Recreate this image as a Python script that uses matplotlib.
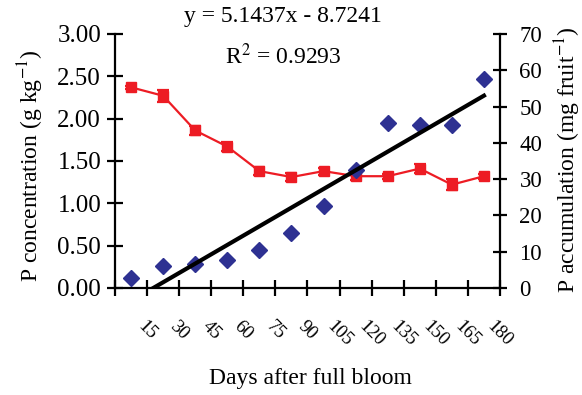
import matplotlib.pyplot as plt
import numpy as np

plt.rcParams['font.family'] = ['Liberation Serif', 'DejaVu Serif']
plt.rcParams['mathtext.fontset'] = 'stix'

# sampling dates (category positions 1..12), tick labels between them
days = [15, 30, 45, 60, 75, 90, 105, 120, 135, 150, 165, 180]
p_conc = [2.37, 2.27, 1.86, 1.67, 1.38, 1.31, 1.38, 1.32, 1.32, 1.41, 1.22, 1.32]
p_conc_err = [0.02, 0.07, 0.05, 0.05, 0.05, 0.05, 0.04, 0.04, 0.03, 0.05, 0.065, 0.03]
p_accum = [2.8, 6.1, 6.6, 7.7, 10.5, 15.2, 22.6, 32.6, 45.6, 44.8, 44.8, 57.5]
slope, intercept = 5.1437, -8.7241

idx = np.arange(1, len(days) + 1)

fig = plt.figure(figsize=(5.82, 3.95), dpi=100)
ax = fig.add_axes([0.1976, 0.271, 0.6615, 0.643])
ax2 = ax.twinx()

ax.errorbar(idx, p_conc, yerr=p_conc_err, color='#ED1C24', lw=1.6,
            marker='s', ms=6.5, capsize=4, capthick=1.6, elinewidth=1.6, zorder=3)

ax2.plot(idx, p_accum, 'D', color='#2E3192', ms=8, zorder=2)
ax2.plot(idx, slope * idx + intercept, color='black', lw=3, zorder=3)

ax.set_xlim(0.5, 12.5)
ax.set_ylim(0, 3)
ax2.set_ylim(0, 70)
ax.set_yticks(np.arange(0, 3.01, 0.5))
ax.set_yticklabels(['%.2f' % v for v in np.arange(0, 3.01, 0.5)])
ax2.set_yticks(range(0, 71, 10))
ax.set_xticks(idx + 0.5)
ax.set_xticklabels([str(d) for d in days], rotation=-45, ha='center', va='top')
ax.set_xticks([0.5], minor=True)

for a in (ax, ax2):
    a.spines['top'].set_visible(False)
    for s in a.spines.values():
        s.set_linewidth(1.6)
ax.spines['right'].set_visible(False)
ax2.spines['left'].set_visible(False)
ax2.spines['bottom'].set_visible(False)

ax.tick_params(axis='y', direction='inout', length=12, width=1.6,
               labelsize=18, pad=4)
ax.tick_params(axis='x', which='both', direction='inout', length=11, width=1.6,
               labelsize=13.5, pad=16)
ax2.tick_params(axis='y', direction='inout', length=10, width=1.6, labelsize=16.5, pad=9)

fig.text(0.052, 0.58, 'P concentration (g kg$^{-1}$)', rotation=90,
         ha='center', va='center', fontsize=17)
fig.text(0.975, 0.595, 'P accumulation (mg fruit$^{-1}$)', rotation=90,
         ha='center', va='center', fontsize=17)
fig.text(0.533, 0.043, 'Days after full bloom', ha='center', va='center', fontsize=17)
fig.text(0.486, 0.957, 'y = 5.1437x - 8.7241', ha='center', va='center', fontsize=17)
fig.text(0.486, 0.857, 'R$^{2}$ = 0.9293', ha='center', va='center', fontsize=17)

fig.savefig('out.png', dpi=100)
